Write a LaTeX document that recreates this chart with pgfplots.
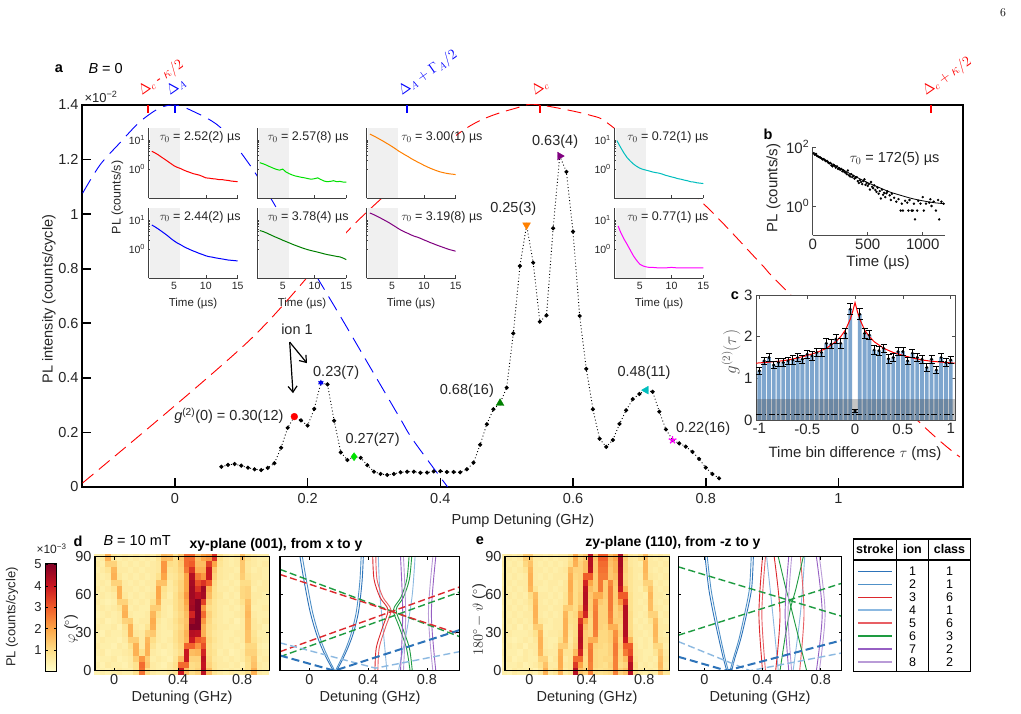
\documentclass[border=0pt]{standalone}
\usepackage{pgfplots}
\pgfplotsset{compat=1.18}
\usepackage{pgfplotstable}
\usepackage{fontspec}
\setsansfont{Liberation Sans}
\renewcommand{\familydefault}{\sfdefault}
\usetikzlibrary{arrows.meta}

% font sizes
\newcommand{\fM}{\fontsize{14.5}{16}\selectfont}
\newcommand{\fL}{\fontsize{15}{17}\selectfont}
\newcommand{\fI}{\fontsize{12.5}{14}\selectfont}
\newcommand{\fS}{\fontsize{10.5}{12}\selectfont}
\newcommand{\fT}{\fontsize{12.5}{14}\selectfont}
\newcommand{\fR}{\fontsize{14}{16}\selectfont}

% colours
\definecolor{txt}{RGB}{38,38,38}
\definecolor{cRed}{RGB}{255,0,0}
\definecolor{cLime}{RGB}{0,225,0}
\definecolor{cOrange}{RGB}{255,128,0}
\definecolor{cBlue}{RGB}{0,0,255}
\definecolor{cGreen}{RGB}{0,128,0}
\definecolor{cPurple}{RGB}{128,0,128}
\definecolor{cCyan}{RGB}{0,190,190}
\definecolor{cMag}{RGB}{255,0,255}
\definecolor{barblue}{RGB}{126,166,206}
\definecolor{s1}{RGB}{45,115,185}
\definecolor{s2}{RGB}{80,145,200}
\definecolor{s3}{RGB}{220,40,45}
\definecolor{s4}{RGB}{140,185,225}
\definecolor{s5}{RGB}{232,95,100}
\definecolor{s6}{RGB}{30,155,65}
\definecolor{s7}{RGB}{150,95,195}
\definecolor{s8}{RGB}{185,155,215}

\pgfplotsset{
  /pgf/number format/assume math mode=true,
  colormap={ylr}{rgb255=(255,255,204) rgb255=(254,222,135) rgb255=(253,165,70) rgb255=(240,90,40) rgb255=(200,20,32) rgb255=(128,0,38)},
  base/.style={scale only axis, anchor=south west, tick align=inside, clip mode=individual,
    tick label style={text=txt}},
  inset/.style={base, width=89pt, height=70pt, xmin=1, xmax=15, ymin=0.1, ymax=25,
    axis x line*=bottom, axis y line*=left, axis background/.style={fill=white},
    xtick={5,10,15}, ytick={1,10}, xticklabels={}, yticklabels={},
    major tick length=3.5pt, minor tick length=2pt,
    axis line style={line width=0.8pt, black!75}, tick style={black!75, line width=0.6pt},
    tick label style={font=\fS}},
  hm/.style={base, height=114pt, ymin=0, ymax=90, ytick={0,30,60,90}, xtick={0,0.4,0.8},
    axis on top, axis line style={line width=1.1pt, black}, tick style={black, line width=0.7pt},
    major tick length=3pt, tick label style={font=\fM}, point meta min=0, point meta max=5.05},
  hcell/.style={scatter, only marks, mark=square*, point meta=explicit,
    scatter/use mapped color={draw=mapped color, fill=mapped color}, mark size=3pt},
  sol/.style={line width=0.9pt, smooth},
  dsh/.style={line width=1.4pt, dash pattern=on 7pt off 3.5pt},
  dshT/.style={line width=2pt, dash pattern=on 8pt off 4pt},
}

% PL intensity versus pump detuning (x in GHz, y in 1e-2 counts/cycle)
\pgfplotstableread{
x y
0.07 0.074
0.08 0.081
0.09 0.084
0.10 0.078
0.11 0.071
0.12 0.065
0.13 0.062
0.14 0.070
0.15 0.087
0.16 0.144
0.17 0.217
0.18 0.258
0.19 0.244
0.20 0.225
0.21 0.286
0.22 0.382
0.23 0.376
0.24 0.243
0.25 0.127
0.26 0.099
0.27 0.111
0.28 0.107
0.29 0.080
0.30 0.056
0.31 0.048
0.32 0.044
0.33 0.048
0.34 0.054
0.35 0.056
0.36 0.056
0.37 0.052
0.38 0.053
0.39 0.057
0.40 0.058
0.41 0.055
0.42 0.055
0.43 0.054
0.44 0.065
0.45 0.089
0.46 0.155
0.47 0.230
0.48 0.285
0.49 0.307
0.50 0.364
0.51 0.563
0.52 0.810
0.53 0.960
0.54 0.822
0.55 0.606
0.56 0.629
0.57 0.948
0.58 1.213
0.59 1.155
0.60 0.936
0.61 0.627
0.62 0.433
0.63 0.285
0.64 0.177
0.65 0.147
0.66 0.172
0.67 0.231
0.68 0.281
0.69 0.322
0.70 0.341
0.71 0.355
0.72 0.349
0.73 0.276
0.74 0.211
0.75 0.172
0.76 0.160
0.77 0.148
0.78 0.129
0.79 0.103
0.80 0.071
0.81 0.048
0.82 0.032
}\pumpdata

% g2 histogram: bin centre (ms), value, error
\pgfplotstableread{
x y e
-1.00 1.18 0.08
-0.95 1.42 0.09
-0.90 1.50 0.10
-0.85 1.32 0.09
-0.80 1.38 0.09
-0.75 1.38 0.09
-0.70 1.42 0.09
-0.65 1.44 0.10
-0.60 1.50 0.10
-0.55 1.46 0.10
-0.50 1.58 0.10
-0.45 1.54 0.10
-0.40 1.62 0.10
-0.35 1.62 0.10
-0.30 1.84 0.11
-0.25 1.82 0.11
-0.20 1.94 0.11
-0.15 1.84 0.11
-0.10 2.08 0.11
-0.05 2.66 0.13
0.00 0.22 0.04
0.05 2.54 0.13
0.10 2.08 0.11
0.15 2.04 0.11
0.20 1.68 0.10
0.25 1.66 0.10
0.30 1.72 0.10
0.35 1.47 0.10
0.40 1.50 0.10
0.45 1.64 0.10
0.50 1.64 0.10
0.55 1.42 0.09
0.60 1.60 0.10
0.65 1.50 0.10
0.70 1.46 0.09
0.75 1.26 0.09
0.80 1.46 0.09
0.85 1.20 0.08
0.90 1.50 0.10
0.95 1.38 0.09
1.00 1.44 0.09
}\gtwo

% PL map, B = 10 mT, xy-plane (rows: angle, columns: detuning bins)
\pgfplotstableread{
phi c0 c1 c2 c3 c4 c5 c6 c7 c8 c9 c10 c11 c12 c13 c14 c15 c16 c17 c18 c19 c20 c21 c22 c23 c24 c25 c26 c27 c28 c29 c30
0 0.4 0.5 0.4 0.5 0.6 0.5 0.5 0.9 2.7 1.0 0.6 0.5 0.5 0.6 0.8 4.0 1.6 1.0 1.2 4.2 1.6 0.8 0.6 0.5 0.6 0.5 0.6 0.9 1.8 0.6 0.5
5 0.5 0.4 0.6 0.5 0.5 0.4 0.6 0.9 2.8 1.4 0.6 0.5 0.4 0.6 0.9 2.8 2.8 1.0 1.1 4.1 1.2 0.8 0.6 0.6 0.5 0.6 0.4 0.9 1.5 0.6 0.5
10 0.4 0.5 0.5 0.6 0.4 0.5 0.6 1.3 2.2 1.3 0.5 0.6 0.5 0.4 0.8 1.6 4.0 1.2 1.2 4.2 1.1 0.7 0.6 0.5 0.6 0.5 0.6 1.0 1.4 0.5 0.6
15 0.5 0.6 0.4 0.5 0.5 0.6 0.7 1.8 0.9 1.8 0.6 0.5 0.4 0.5 0.7 1.0 4.0 1.6 1.7 3.8 1.0 0.8 0.5 0.6 0.4 0.5 0.6 1.2 1.2 0.6 0.5
20 0.6 0.5 0.5 0.4 0.6 0.5 0.9 1.8 0.6 1.8 0.8 0.5 0.6 0.5 0.8 1.1 2.9 2.9 2.2 3.2 1.0 0.7 0.6 0.5 0.5 0.6 0.5 1.1 1.1 0.5 0.4
25 0.5 0.6 0.5 0.5 0.4 0.6 1.3 1.3 0.6 1.7 1.0 0.6 0.5 0.6 0.9 1.2 1.7 4.0 3.0 2.8 1.1 0.8 0.6 0.5 0.6 0.5 0.6 1.5 0.9 0.6 0.5
30 0.5 0.4 0.6 0.5 0.5 0.7 1.8 0.7 0.6 1.2 1.4 0.6 0.5 0.5 0.9 1.2 1.8 4.3 4.2 1.8 1.0 0.7 0.6 0.5 0.5 0.6 0.6 1.5 0.8 0.5 0.5
35 0.6 0.5 0.5 0.6 0.4 0.8 1.8 0.6 0.5 0.8 1.8 0.6 0.5 0.6 0.8 1.1 1.6 5.0 5.0 1.8 1.0 0.8 0.6 0.6 0.5 0.5 0.6 1.6 0.7 0.6 0.4
40 0.5 0.6 0.4 0.5 0.6 1.2 1.3 0.5 0.6 0.6 1.9 0.7 0.5 0.6 0.9 1.2 1.5 4.6 5.0 2.2 1.1 0.7 0.6 0.5 0.6 0.4 0.6 1.6 0.7 0.5 0.6
45 0.4 0.5 0.6 0.5 0.6 1.8 0.6 0.5 0.5 0.6 1.7 0.9 0.6 0.5 0.8 1.1 1.6 3.8 5.0 2.8 1.2 0.8 0.6 0.5 0.5 0.6 0.7 1.7 0.6 0.5 0.5
50 0.5 0.6 0.5 0.6 0.8 1.7 0.5 0.6 0.5 0.5 1.3 1.3 0.6 0.5 0.9 1.2 1.8 4.6 5.0 2.2 1.0 0.8 0.6 0.5 0.6 0.5 0.7 1.6 0.5 0.5 0.6
55 0.6 0.5 0.4 0.5 1.2 1.2 0.6 0.5 0.6 0.5 0.9 1.8 0.6 0.6 0.9 1.2 2.0 4.5 5.0 3.4 1.2 0.8 0.6 0.6 0.5 0.6 0.9 1.5 0.6 0.5 0.5
60 0.5 0.6 0.5 0.6 1.8 0.7 0.5 0.6 0.5 0.6 0.7 2.0 0.8 0.5 0.9 1.3 2.2 4.6 4.2 4.5 1.6 0.9 0.7 0.5 0.6 0.5 1.1 1.2 0.6 0.6 0.5
65 0.6 0.5 0.6 0.8 1.8 0.6 0.6 0.5 0.6 0.5 0.6 2.0 0.9 0.6 0.8 1.2 2.0 4.6 3.6 4.6 1.8 0.9 0.6 0.6 0.5 0.6 1.1 1.2 0.5 0.6 0.6
70 0.5 0.6 0.5 1.2 1.2 0.6 0.5 0.6 0.5 0.6 0.6 1.5 1.5 0.6 0.9 1.2 2.0 4.5 3.2 3.6 3.0 1.0 0.6 0.5 0.6 0.5 1.0 1.0 0.6 0.5 0.6
75 0.6 0.5 0.6 1.8 0.7 0.5 0.6 0.5 0.6 0.5 0.6 0.9 2.0 0.7 0.8 1.1 2.0 4.3 2.6 2.2 4.0 1.2 0.7 0.6 0.5 0.6 1.3 0.8 0.6 0.6 0.5
80 0.5 0.6 0.8 1.7 0.6 0.6 0.5 0.6 0.5 0.6 0.6 0.7 2.2 0.8 0.9 1.2 2.6 3.6 1.8 1.8 4.0 1.4 0.7 0.6 0.6 0.5 1.4 0.7 0.5 0.6 0.5
85 0.6 0.5 1.2 1.2 0.6 0.5 0.6 0.5 0.6 0.5 0.6 0.7 2.2 1.0 0.9 1.3 2.8 3.0 1.6 1.6 3.4 2.0 0.8 0.6 0.5 0.6 1.4 0.7 0.6 0.5 0.6
90 0.5 0.6 1.8 0.7 0.5 0.6 0.5 0.6 0.5 0.6 0.5 0.8 1.6 1.5 0.9 1.4 2.8 2.8 1.5 2.0 2.2 3.6 0.9 0.6 0.5 0.6 1.5 0.8 0.6 0.5 0.5
}\heatD

% PL map, B = 10 mT, zy-plane
\pgfplotstableread{
phi c0 c1 c2 c3 c4 c5 c6 c7 c8 c9 c10 c11 c12 c13 c14 c15 c16 c17 c18 c19 c20 c21 c22 c23 c24 c25 c26 c27 c28 c29 c30 c31 c32
0 0.5 0.4 0.6 0.5 0.5 0.6 0.4 0.7 1.8 0.6 0.8 1.8 0.6 0.8 4.3 1.5 1.2 2.5 1.0 0.9 1.0 1.1 2.5 1.2 1.5 4.3 0.9 0.6 0.5 0.6 0.5 1.6 0.7
5 0.4 0.5 0.5 0.6 0.4 0.5 0.6 0.9 1.5 0.6 0.6 1.9 0.7 0.8 3.5 2.0 1.0 2.5 1.1 1.0 0.9 1.2 2.5 1.0 1.2 4.3 1.0 0.5 0.6 0.5 0.6 1.7 0.6
10 0.5 0.6 0.4 0.5 0.6 0.5 0.5 1.2 1.2 0.5 0.7 1.9 0.6 0.8 2.8 2.8 1.0 2.6 1.1 1.0 1.1 1.1 2.5 1.1 1.6 3.8 0.8 0.6 0.5 0.6 0.5 1.6 0.7
15 0.6 0.5 0.5 0.4 0.6 0.5 0.6 1.7 0.7 0.6 0.6 1.8 0.8 0.8 1.6 3.8 1.1 2.6 1.1 1.0 1.0 1.2 2.6 1.1 2.6 3.2 0.7 0.6 0.5 0.5 0.8 1.4 0.6
20 0.5 0.6 0.5 0.6 0.4 0.6 0.6 1.8 0.6 0.5 0.6 1.3 1.3 0.7 1.2 4.2 1.3 2.5 1.2 1.1 1.0 1.2 2.6 1.2 3.0 3.0 0.7 0.5 0.6 0.5 1.1 1.1 0.5
25 0.6 0.5 0.4 0.5 0.6 0.5 0.7 1.8 0.6 0.5 0.5 0.9 1.7 0.6 1.1 4.3 1.3 1.8 1.8 1.1 1.1 1.3 2.4 1.1 4.0 1.7 0.6 0.5 0.6 0.5 1.6 0.7 0.6
30 0.5 0.6 0.5 0.5 0.5 0.6 0.9 1.7 0.5 0.6 0.6 0.7 1.8 0.7 1.0 4.2 1.3 1.1 2.5 1.1 1.1 1.3 2.3 1.3 4.3 1.1 0.6 0.6 0.5 0.6 1.7 0.6 0.5
35 0.6 0.5 0.6 0.4 0.6 0.5 1.3 1.3 0.5 0.5 0.6 0.6 1.8 0.8 1.0 4.0 1.5 1.1 2.6 1.2 1.1 1.8 1.8 1.2 4.3 1.0 0.6 0.5 0.6 0.6 1.7 0.6 0.6
40 0.5 0.6 0.5 0.6 0.5 0.6 1.7 0.7 0.6 0.5 0.6 0.6 1.8 0.9 1.0 3.6 2.0 1.1 2.6 1.2 1.2 2.4 1.3 1.3 4.3 1.0 0.5 0.6 0.5 0.8 1.6 0.6 0.5
45 0.6 0.5 0.6 0.5 0.6 0.6 1.8 0.6 0.5 0.6 0.5 0.6 1.7 0.9 1.1 2.4 3.8 1.2 2.6 1.2 1.2 2.5 1.2 1.4 4.3 1.0 0.6 0.5 0.6 1.2 1.2 0.5 0.6
50 0.5 0.6 0.5 0.6 0.5 0.7 1.8 0.6 0.6 0.5 0.6 0.6 1.3 1.3 1.0 1.6 4.2 1.3 2.5 1.2 1.2 2.6 1.2 1.6 4.3 0.9 0.6 0.6 0.5 1.6 0.7 0.6 0.5
55 0.6 0.5 0.6 0.5 0.6 0.8 1.7 0.6 0.5 0.6 0.5 0.6 0.8 1.8 1.0 1.3 4.3 1.3 2.4 1.4 1.2 2.6 1.3 2.2 3.6 0.9 0.6 0.5 0.6 1.6 0.6 0.5 0.6
60 0.5 0.6 0.5 0.6 0.5 1.0 1.6 0.6 0.6 0.5 0.6 0.5 0.8 1.8 1.0 1.3 4.3 1.4 1.9 1.9 1.3 2.6 1.3 3.0 3.0 0.9 0.6 0.6 0.5 1.7 0.6 0.6 0.5
65 0.6 0.5 0.6 0.5 0.6 1.7 0.8 0.5 0.5 0.6 0.5 0.6 0.7 1.9 1.0 1.2 4.2 1.6 1.3 2.6 1.3 2.6 1.3 4.0 1.7 0.8 0.6 0.5 0.9 1.5 0.6 0.5 0.6
70 0.5 0.6 0.5 0.6 0.6 1.8 0.6 0.6 0.5 0.6 0.6 0.5 0.7 1.9 1.0 1.2 3.8 2.0 1.3 2.6 1.3 2.4 1.4 4.3 1.2 0.8 0.6 0.6 1.2 1.2 0.5 0.6 0.5
75 0.6 0.5 0.6 0.5 0.6 1.8 0.6 0.5 0.6 0.5 0.6 0.6 0.6 1.8 1.1 1.2 3.0 3.0 1.3 2.6 2.6 1.4 1.6 4.3 1.1 0.8 0.6 0.5 1.6 0.7 0.6 0.5 0.6
80 0.5 0.6 0.5 0.6 0.8 1.7 0.6 0.6 0.5 0.6 0.5 0.6 0.7 1.6 1.2 1.2 1.6 4.2 1.4 2.7 2.7 1.4 1.8 4.4 1.2 0.8 0.6 0.6 1.7 0.6 0.5 0.6 0.5
85 0.6 0.5 0.6 0.5 1.1 1.5 0.6 0.5 0.6 0.5 0.6 0.5 0.6 1.0 1.8 1.2 1.6 4.3 1.4 2.8 2.8 1.5 1.8 4.5 1.2 0.7 0.6 0.5 1.7 0.6 0.6 0.5 0.6
90 0.5 0.6 0.5 0.6 1.3 1.3 0.6 0.6 0.5 0.6 0.5 0.6 0.6 0.9 1.9 1.1 1.4 4.3 1.5 3.0 3.0 1.6 2.0 4.5 1.3 0.7 0.6 0.9 1.6 0.6 0.5 0.6 0.5
}\heatE

\begin{document}
\begin{tikzpicture}
\fill[white] (0,0) rectangle (1021pt,713pt);
\path[use as bounding box] (0,0) rectangle (1021pt,713pt);

\node[font=\rmfamily\fontsize{12}{14}\selectfont] at (1003pt,700pt) {6};

% ================= a: PL spectrum =================
\begin{axis}[base, at={(82pt,226pt)}, width=881pt, height=382pt,
  xmin=-0.14, xmax=1.1877, ymin=0, ymax=1.4,
  xtick={0,0.2,0.4,0.6,0.8,1}, ytick={0,0.2,0.4,0.6,0.8,1,1.2,1.4},
  tick pos=left, major tick length=9pt,
  axis line style={line width=1.8pt, black},
  tick style={line width=1.6pt, black},
  tick label style={font=\fM}, xticklabel shift=3pt]
% cavity and ion line shapes
\addplot[cRed, line width=0.9pt, dash pattern=on 14pt off 7pt, smooth] coordinates {
 (-0.139,0.015) (0.113,0.539) (0.274,0.972) (0.433,1.305) (0.520,1.393) (0.550,1.400)
 (0.625,1.363) (0.660,1.319) (0.791,1.051) (0.882,0.821) (0.916,0.733) (1.123,0.235) (1.183,0.110)};
\addplot[cBlue, line width=0.9pt, dash pattern=on 16pt off 8pt, smooth] coordinates {
 (-0.139,1.077) (-0.113,1.180) (-0.083,1.261) (-0.053,1.338) (-0.023,1.389) (0,1.400)
 (0.023,1.382) (0.068,1.319) (0.113,1.180) (0.146,1.052) (0.188,0.876) (0.249,0.627)
 (0.294,0.440) (0.339,0.253) (0.359,0.172) (0.411,0.0) (0.43,-0.06)};
% measured spectrum
\addplot[black, line width=0.9pt, dash pattern=on 0.9pt off 2.4pt, mark=*, mark size=1.6pt,
  mark options={solid, fill=black}] table[x=x, y=y] {\pumpdata};
% points where lifetime and g2 were measured
\addplot[only marks, mark=*, mark size=3.4pt, cRed] coordinates {(0.18,0.258)};
\addplot[only marks, mark=asterisk, mark size=2.8pt, cBlue, line width=1.1pt] coordinates {(0.22,0.382)};
\addplot[only marks, mark=diamond*, mark size=4pt, cLime] coordinates {(0.27,0.111)};
\addplot[only marks, mark=triangle*, mark size=4.5pt, cGreen] coordinates {(0.49,0.307)};
\addplot[only marks, mark=triangle*, mark size=4.5pt, cOrange, mark options={rotate=180}] coordinates {(0.53,0.960)};
\addplot[only marks, mark=triangle*, mark size=4.5pt, cPurple, mark options={rotate=-90}] coordinates {(0.58,1.213)};
\addplot[only marks, mark=triangle*, mark size=4.5pt, cCyan, mark options={rotate=90}] coordinates {(0.71,0.355)};
\addplot[only marks, mark=star, mark size=4pt, cMag, line width=1.3pt] coordinates {(0.75,0.172)};
% g2(0) values
\node[font=\fM, text=txt, anchor=east] at (axis cs:0.169,0.262) {\textit{g}\textsuperscript{(2)}(0) = 0.30(12)};
\node[font=\fM, text=txt] at (axis cs:0.243,0.417) {0.23(7)};
\node[font=\fM, text=txt] at (axis cs:0.298,0.172) {0.27(27)};
\node[font=\fM, text=txt] at (axis cs:0.44,0.353) {0.68(16)};
\node[font=\fM, text=txt] at (axis cs:0.51,1.021) {0.25(3)};
\node[font=\fM, text=txt] at (axis cs:0.573,1.265) {0.63(4)};
\node[font=\fM, text=txt] at (axis cs:0.707,0.419) {0.48(11)};
\node[font=\fM, text=txt] at (axis cs:0.796,0.215) {0.22(16)};
\node[font=\fM, text=txt] at (axis cs:0.184,0.578) {ion 1};
\draw[-{Straight Barb[length=6pt,width=9pt]}, line width=1.2pt] (axis cs:0.173,0.531) -- (axis cs:0.178,0.344);
\draw[-{Straight Barb[length=6pt,width=9pt]}, line width=1.2pt] (axis cs:0.173,0.531) -- (axis cs:0.199,0.454);
\end{axis}

% detuning markers on the upper edge
\draw[cRed, line width=1.6pt] (147.8pt,608pt) -- (147.8pt,600pt);
\draw[cBlue, line width=1.6pt] (175pt,608pt) -- (175pt,600pt);
\draw[cBlue, line width=1.6pt] (407.2pt,608pt) -- (407.2pt,600pt);
\draw[cRed, line width=1.6pt] (539.9pt,608pt) -- (539.9pt,600pt);
\draw[cRed, line width=1.6pt] (930.7pt,608pt) -- (930.7pt,600pt);
\node[cRed, rotate=35, anchor=base west, inner sep=0pt, font=\fR] at (142pt,617pt) {$\Delta_c$ - $\kappa/2$};
\node[cBlue, rotate=35, anchor=base west, inner sep=0pt, font=\fR] at (170pt,617pt) {$\Delta_A$};
\node[cBlue, rotate=35, anchor=base west, inner sep=0pt, font=\fR] at (402pt,617pt) {$\Delta_A + \Gamma_A/2$};
\node[cRed, rotate=35, anchor=base west, inner sep=0pt, font=\fR] at (535pt,617pt) {$\Delta_c$};
\node[cRed, rotate=35, anchor=base west, inner sep=0pt, font=\fR] at (926pt,617pt) {$\Delta_c + \kappa/2$};

\node[font=\fM\bfseries] at (59pt,644pt) {a};
\node[font=\fM, anchor=west] at (85pt,644pt) {\textit{B} = 0};
\node[font=\fontsize{13}{15}\selectfont, text=txt, anchor=west] at (81pt,616pt) {×10\textsuperscript{−2}};
\node[font=\fM, text=txt, rotate=90] at (49pt,414pt) {PL intensity (counts/cycle)};
\node[font=\fM, text=txt] at (523pt,192pt) {Pump Detuning (GHz)};

% ================= lifetime insets =================
\begin{axis}[ymode=log, inset, at={(148.6pt,514.7pt)}, yticklabels={10\textsuperscript{0},10\textsuperscript{1}}]
\addplot[draw=none, fill=black!6] coordinates {(1.2,0.1) (6,0.1) (6,25) (1.2,25)} -- cycle;
\addplot[cRed, line width=1pt] coordinates {(1.5,4.1) (2,3.6) (2.5,3.1) (3,2.6) (3.5,2.2) (4,1.85) (4.5,1.55) (5,1.3) (5.5,1.15) (6,1.05) (6.5,0.93) (7,0.84) (7.5,0.77) (8,0.7) (8.5,0.66) (9,0.62) (9.5,0.56) (10,0.5) (10.5,0.49) (11,0.47) (11.5,0.46) (12,0.44) (12.5,0.44) (13,0.42) (13.5,0.41) (14,0.39) (14.5,0.38) (15,0.37)};
\node[font=\fI, text=txt] at (rel axis cs:0.578,0.876) {$\tau_0$ = 2.52(2) µs};
\end{axis}
\begin{axis}[ymode=log, inset, at={(257.3pt,514.7pt)}]
\addplot[draw=none, fill=black!6] coordinates {(1.2,0.1) (6,0.1) (6,25) (1.2,25)} -- cycle;
\addplot[cLime, line width=1pt] coordinates {(1.4,1.66) (2,1.5) (2.5,1.35) (3,1.2) (3.5,1.08) (4,0.98) (4.5,0.92) (5,1.0) (5.5,0.8) (6,0.7) (6.5,0.63) (7,0.58) (7.5,0.55) (8,0.52) (8.5,0.5) (9,0.47) (9.5,0.45) (10,0.47) (10.5,0.5) (11,0.44) (11.5,0.39) (12,0.37) (12.5,0.38) (13,0.4) (13.5,0.37) (14,0.38) (14.5,0.36) (15,0.36)};
\node[font=\fI, text=txt] at (rel axis cs:0.57,0.876) {$\tau_0$ = 2.57(8) µs};
\end{axis}
\begin{axis}[ymode=log, inset, at={(366.7pt,514.7pt)}]
\addplot[draw=none, fill=black!6] coordinates {(1.2,0.1) (6,0.1) (6,25) (1.2,25)} -- cycle;
\addplot[cOrange, line width=1pt] coordinates {(1.5,15.8) (2,14) (2.5,12.3) (3,10.7) (3.5,9.3) (4,8.0) (4.5,6.9) (5,5.9) (5.5,5.0) (6,4.2) (6.5,3.6) (7,3.1) (7.5,2.7) (8,2.3) (8.5,2.0) (9,1.75) (9.5,1.55) (10,1.35) (10.5,1.2) (11,1.07) (11.5,0.97) (12,0.88) (12.5,0.81) (13,0.76) (13.5,0.72) (14,0.69) (14.5,0.67) (15,0.65)};
\node[font=\fI, text=txt] at (rel axis cs:0.846,0.876) {$\tau_0$ = 3.00(1) µs};
\end{axis}
\begin{axis}[ymode=log, inset, at={(614.3pt,514.7pt)}, yticklabels={10\textsuperscript{0},10\textsuperscript{1}}]
\addplot[draw=none, fill=black!6] coordinates {(1.2,0.1) (6,0.1) (6,25) (1.2,25)} -- cycle;
\addplot[cCyan, line width=1pt] coordinates {(1.4,9.5) (2,5.5) (2.5,3.6) (3,2.5) (3.5,1.9) (4,1.5) (4.5,1.25) (5,1.08) (5.5,0.98) (6,0.92) (6.5,0.86) (7,0.8) (7.5,0.76) (8,0.73) (8.5,0.68) (9,0.62) (9.5,0.58) (10,0.54) (10.5,0.51) (11,0.47) (11.5,0.45) (12,0.42) (12.5,0.4) (13,0.37) (13.5,0.36) (14,0.34) (14.5,0.33) (15,0.32)};
\node[font=\fI, text=txt] at (rel axis cs:0.603,0.876) {$\tau_0$ = 0.72(1) µs};
\end{axis}
\begin{axis}[ymode=log, inset, at={(148.6pt,434.5pt)}, yticklabels={10\textsuperscript{0},10\textsuperscript{1}}, xticklabels={5,10,15}]
\addplot[draw=none, fill=black!6] coordinates {(1.2,0.1) (6,0.1) (6,25) (1.2,25)} -- cycle;
\addplot[cBlue, line width=1pt] coordinates {(1.5,6.8) (2,5.9) (2.5,5.0) (3,4.2) (3.5,3.5) (4,2.9) (4.5,2.35) (5,1.95) (5.5,1.65) (6,1.45) (6.5,1.25) (7,1.1) (7.5,0.98) (8,0.88) (8.5,0.8) (9,0.72) (9.5,0.66) (10,0.6) (10.5,0.56) (11,0.54) (11.5,0.51) (12,0.49) (12.5,0.47) (13,0.45) (13.5,0.43) (14,0.42) (14.5,0.41) (15,0.4)};
\node[font=\fI, text=txt] at (rel axis cs:0.578,0.88) {$\tau_0$ = 2.44(2) µs};
\end{axis}
\begin{axis}[ymode=log, inset, at={(257.3pt,434.5pt)}, xticklabels={5,10,15}]
\addplot[draw=none, fill=black!6] coordinates {(1.2,0.1) (6,0.1) (6,25) (1.2,25)} -- cycle;
\addplot[cGreen, line width=1pt] coordinates {(1.4,4.4) (2,4.0) (2.5,3.6) (3,3.2) (3.5,2.85) (4,2.55) (4.5,2.3) (5,2.05) (5.5,1.85) (6,1.67) (6.5,1.5) (7,1.36) (7.5,1.24) (8,1.13) (8.5,1.04) (9,0.96) (9.5,0.9) (10,0.85) (10.5,0.8) (11,0.75) (11.5,0.7) (12,0.66) (12.5,0.63) (13,0.6) (13.5,0.57) (14,0.55) (14.5,0.5) (15,0.44)};
\node[font=\fI, text=txt] at (rel axis cs:0.57,0.88) {$\tau_0$ = 3.78(4) µs};
\end{axis}
\begin{axis}[ymode=log, inset, at={(366.7pt,434.5pt)}, xticklabels={5,10,15}]
\addplot[draw=none, fill=black!6] coordinates {(1.2,0.1) (6,0.1) (6,25) (1.2,25)} -- cycle;
\addplot[cPurple, line width=1pt] coordinates {(1.5,17.5) (2,15.8) (2.5,14.0) (3,12.3) (3.5,10.8) (4,9.4) (4.5,8.2) (5,7.0) (5.5,6.0) (6,5.1) (6.5,4.4) (7,3.9) (7.5,3.5) (8,3.1) (8.5,2.8) (9,2.6) (9.5,2.35) (10,2.1) (10.5,1.9) (11,1.7) (11.5,1.55) (12,1.4) (12.5,1.28) (13,1.17) (13.5,1.07) (14,0.98) (14.5,0.92) (15,0.86)};
\node[font=\fI, text=txt] at (rel axis cs:0.846,0.88) {$\tau_0$ = 3.19(8) µs};
\end{axis}
\begin{axis}[ymode=log, inset, at={(614.3pt,434.5pt)}, yticklabels={10\textsuperscript{0},10\textsuperscript{1}}, xticklabels={5,10,15}]
\addplot[draw=none, fill=black!6] coordinates {(1.2,0.1) (6,0.1) (6,25) (1.2,25)} -- cycle;
\addplot[cMag, line width=1pt] coordinates {(1.6,6.3) (2,3.8) (2.5,2.3) (3,1.5) (3.5,0.95) (4,0.6) (4.5,0.42) (5,0.31) (5.5,0.27) (6,0.25) (6.5,0.24) (7,0.24) (8,0.23) (9,0.23) (10,0.24) (11,0.23) (12,0.23) (13,0.23) (14,0.23) (15,0.23)};
\node[font=\fI, text=txt] at (rel axis cs:0.603,0.88) {$\tau_0$ = 0.77(1) µs};
\end{axis}
\node[font=\fI, text=txt, rotate=90] at (117.5pt,515.5pt) {PL (counts/s)};
\foreach \xx in {193,302,411,659} {\node[font=\fontsize{11.5}{13}\selectfont, text=txt] at (\xx pt,409pt) {Time (µs)};}

% ================= b: long decay =================
\begin{axis}[ymode=log, base, at={(812.7pt,477.5pt)}, width=132pt, height=88.5pt,
  xmin=0, xmax=1200, ymin=0.1, ymax=100,
  axis x line*=bottom, axis y line*=left,
  xtick={0,500,1000}, xticklabels={0,500,1000}, ytick={1,100},
  yticklabels={10\textsuperscript{0},10\textsuperscript{2}},
  axis line style={line width=0.8pt, black!70}, tick style={black!70, line width=0.6pt},
  major tick length=3.5pt, minor tick length=2pt, tick label style={font=\fL}]
\addplot[only marks, mark=*, mark size=1pt, black] coordinates {
 (10,62) (20,55) (30,58) (40,50) (50,47) (60,45) (70,44) (80,41) (90,38) (100,39) (110,36) (120,33)
 (130,34) (140,30) (150,28) (160,29) (170,24) (180,22) (190,25) (200,23) (210,20) (220,22) (230,18)
 (240,19) (250,17) (260,18) (270,15) (280,16) (290,14) (300,13.5) (310,12) (320,16) (330,11) (340,10)
 (350,12) (360,9.5) (370,10.5) (380,8.5) (390,9) (400,9.5) (410,7) (420,6) (430,7.5) (440,6.5)
 (450,5.5) (460,7) (470,8) (480,5.2) (490,6) (500,4.8) (510,5.5) (520,3.6) (530,6.5) (540,4.5)
 (550,4) (560,5) (570,3.5) (580,3) (590,4.2) (600,2.6) (610,3.2) (620,1.8) (630,3.6) (640,2.4)
 (650,2.8) (660,2) (670,2.7) (680,3.1) (700,2.3) (710,1.6) (720,2.6) (740,1.9) (760,1.4) (780,1.7)
 (800,0.7) (810,1.2) (820,0.7) (840,1.5) (860,1.3) (870,0.7) (880,1.6) (900,0.7) (910,0.7) (920,1.2)
 (930,0.35) (950,0.7) (960,1.5) (980,1.2) (1000,2.0) (1010,0.7) (1030,1.2) (1060,1.3) (1070,1.7)
 (1080,1.0) (1100,1.4) (1120,0.7) (1140,1.6) (1150,0.35) (1170,1.4) (1190,1.2)};
\addplot[black, line width=0.8pt, smooth] coordinates {(0,60) (100,38) (200,24) (300,15) (400,9.5) (500,6.2) (600,4.3) (700,3.0) (800,2.3) (900,1.8) (1000,1.5) (1100,1.3) (1190,1.2)};
\node[font=\fM, text=txt] at (rel axis cs:0.62,0.87) {$\tau_0$ = 172(5) µs};
\end{axis}
\node[font=\fM\bfseries] at (768pt,579pt) {b};
\node[font=\fL, text=txt, rotate=90] at (773.5pt,525pt) {PL (counts/s)};
\node[font=\fL, text=txt] at (878pt,450pt) {Time (µs)};

% ================= c: g2 histogram =================
\begin{axis}[base, at={(756pt,293pt)}, width=199pt, height=125pt,
  xmin=-1.035, xmax=1.045, ymin=0, ymax=3,
  xtick={-1,-0.5,0,0.5,1}, xticklabels={-1,-0.5,0,0.5,1}, ytick={0,1,2,3},
  axis background/.style={fill=white},
  axis line style={line width=0.8pt, black!70}, tick style={black!70, line width=0.6pt},
  major tick length=3.5pt, tick label style={font=\fL}]
\addplot[ybar, bar width=0.04, fill=barblue, draw=none] table[x=x, y=y] {\gtwo};
\addplot[draw=none, fill=black!75, opacity=0.3] coordinates {(-1.035,0) (1.045,0) (1.045,0.5) (-1.035,0.5)} -- cycle;
\addplot[black, line width=1pt, dash pattern=on 6pt off 2.5pt on 1.5pt off 2.5pt] coordinates {(-1.035,0.14) (1.045,0.14)};
\addplot[cRed, line width=1pt] coordinates {(-1.035,1.365) (-1,1.37) (-0.9,1.39) (-0.8,1.41) (-0.7,1.44) (-0.6,1.49) (-0.5,1.55) (-0.4,1.62) (-0.3,1.72) (-0.2,1.88) (-0.15,2.0) (-0.1,2.16) (-0.05,2.42) (-0.025,2.6) (0,2.82) (0.025,2.6) (0.05,2.42) (0.1,2.16) (0.15,2.0) (0.2,1.88) (0.3,1.72) (0.4,1.62) (0.5,1.55) (0.6,1.49) (0.7,1.44) (0.8,1.41) (0.9,1.39) (1,1.37) (1.045,1.365)};
\addplot[only marks, mark=*, mark size=1.3pt, black,
  error bars/.cd, y dir=both, y explicit, error bar style={line width=0.7pt},
  error mark options={rotate=90, mark size=3pt, line width=0.7pt}] table[x=x, y=y, y error=e] {\gtwo};
\end{axis}
\node[font=\fM\bfseries] at (735pt,417pt) {c};
\node[font=\fontsize{16}{18}\selectfont, text=txt!80, rotate=90] at (731pt,361pt) {$g^{(2)}(\tau)$};
\node[font=\fL, text=txt] at (855pt,259pt) {Time bin difference $\tau$ (ms)};

% ================= d: xy-plane =================
\begin{axis}[hm, at={(95pt,42.3pt)}, width=174.3pt, xmin=-0.12, xmax=0.97,
  colorbar, colorbar style={at={(parent axis.south west)}, anchor=south west,
    xshift=-58.3pt, yshift=-1pt, width=11.6pt, height=108.4pt, scale only axis,
    ytick={1,2,3,4,5}, yticklabel pos=left, tick align=inside, major tick length=2.5pt,
    tick label style={font=\fontsize{13}{15}\selectfont, text=txt},
    axis line style={line width=0.8pt}, tick style={black, line width=0.6pt}}]
\foreach \k/\xv in {0/-0.105,1/-0.07,2/-0.035,3/0,4/0.035,5/0.07,6/0.105,7/0.14,8/0.175,9/0.21,10/0.245,11/0.28,12/0.315,13/0.35,14/0.385,15/0.42,16/0.455,17/0.49,18/0.525,19/0.56,20/0.595,21/0.63,22/0.665,23/0.7,24/0.735,25/0.77,26/0.805,27/0.84,28/0.875,29/0.91,30/0.945} {
  \edef\tmp{\noexpand\addplot[hcell] table[x expr=\xv, y=phi, meta=c\k] {\noexpand\heatD};}
  \tmp
}
\end{axis}

\begin{axis}[hm, at={(280pt,42.3pt)}, width=179.3pt, xmin=-0.2, xmax=1.02, yticklabels={}]
% ion 1 and 2
\addplot[s1, sol] coordinates {(-0.064,90) (-0.035,70) (0.004,47) (0.045,30) (0.084,18) (0.125,8) (0.163,0)};
\addplot[s2, sol] coordinates {(-0.048,90) (-0.018,70) (0.02,47) (0.06,30) (0.098,18) (0.137,8) (0.172,0)};
\addplot[s1, sol] coordinates {(0.367,90) (0.358,70) (0.335,47) (0.30,30) (0.262,18) (0.222,8) (0.186,0)};
\addplot[s2, sol] coordinates {(0.352,90) (0.343,70) (0.32,47) (0.286,30) (0.25,18) (0.212,8) (0.177,0)};
% ion 4
\addplot[s4, sol] coordinates {(0.469,90) (0.48,60) (0.50,35) (0.527,0)};
\addplot[s4, sol] coordinates {(0.719,90) (0.70,60) (0.66,30) (0.606,0)};
% ion 3 and 5
\addplot[s3, sol] coordinates {(0.431,90) (0.44,72) (0.48,58) (0.535,48) (0.50,35) (0.455,18) (0.446,0)};
\addplot[s5, sol] coordinates {(0.452,90) (0.46,72) (0.50,58) (0.555,48) (0.52,35) (0.475,18) (0.466,0)};
% ion 6
\addplot[s6, sol] coordinates {(0.696,90) (0.68,72) (0.64,58) (0.59,48) (0.63,35) (0.68,18) (0.70,0)};
\addplot[s6, sol] coordinates {(0.678,90) (0.663,72) (0.623,58) (0.572,48) (0.61,35) (0.66,18) (0.685,0)};
% ions 7 and 8
\addplot[s7, sol] coordinates {(0.62,90) (0.635,45) (0.62,0)};
\addplot[s8, sol] coordinates {(0.64,90) (0.655,45) (0.64,0)};
\addplot[s7, sol] coordinates {(0.86,90) (0.83,45) (0.86,0)};
\addplot[s8, sol] coordinates {(0.84,90) (0.81,45) (0.84,0)};
% second-class sites
\addplot[s6, dsh] coordinates {(-0.2,80) (1.02,27)};
\addplot[s3, dsh] coordinates {(-0.2,76) (1.02,29)};
\addplot[s3, dsh] coordinates {(-0.2,15) (1.02,66)};
\addplot[s6, dsh] coordinates {(-0.2,11) (1.02,62)};
\addplot[s4, dsh] coordinates {(-0.2,22) (0.45,2) (1.02,15)};
\addplot[s1, dshT] coordinates {(-0.2,12) (0.17,0) (1.02,32)};
\end{axis}

\node[font=\fM\bfseries] at (78pt,172pt) {d};
\node[font=\fM, anchor=west] at (100pt,172pt) {\textit{B} = 10 mT};
\node[font=\fontsize{14}{16}\selectfont\bfseries] at (276pt,168pt) {xy-plane (001), from x to y};
\node[font=\fM, text=txt, rotate=90] at (71pt,84pt) {$\varphi$ ($^\circ$)};
\node[font=\fontsize{13}{15}\selectfont, text=txt, rotate=90] at (12pt,96pt) {PL (counts/cycle)};
\node[font=\fontsize{12}{14}\selectfont, text=txt, anchor=west] at (33pt,164pt) {×10\textsuperscript{−3}};
\node[font=\fM, text=txt] at (182pt,15pt) {Detuning (GHz)};
\node[font=\fM, text=txt] at (370pt,15pt) {Detuning (GHz)};

% ================= e: zy-plane =================
\begin{axis}[hm, at={(505pt,42.3pt)}, width=164.3pt, xmin=-0.169, xmax=0.974]
\foreach \k/\xv in {0/-0.165,1/-0.13,2/-0.095,3/-0.06,4/-0.025,5/0.01,6/0.045,7/0.08,8/0.115,9/0.15,10/0.185,11/0.22,12/0.255,13/0.29,14/0.325,15/0.36,16/0.395,17/0.43,18/0.465,19/0.5,20/0.535,21/0.57,22/0.605,23/0.64,24/0.675,25/0.71,26/0.745,27/0.78,28/0.815,29/0.85,30/0.885,31/0.92,32/0.955} {
  \edef\tmp{\noexpand\addplot[hcell] table[x expr=\xv, y=phi, meta=c\k] {\noexpand\heatE};}
  \tmp
}
\end{axis}

\begin{axis}[hm, at={(678.3pt,42.3pt)}, width=163.4pt, xmin=-0.179, xmax=0.944, yticklabels={}]
\addplot[s1, sol] coordinates {(0.005,90) (0.03,65) (0.062,45) (0.10,25) (0.13,10) (0.154,0)};
\addplot[s2, sol] coordinates {(0.02,90) (0.045,65) (0.077,45) (0.113,25) (0.142,10) (0.165,0)};
\addplot[s1, sol] coordinates {(0.337,90) (0.325,65) (0.291,45) (0.25,25) (0.21,10) (0.188,0)};
\addplot[s2, sol] coordinates {(0.322,90) (0.31,65) (0.277,45) (0.238,25) (0.20,10) (0.177,0)};
\addplot[s4, sol] coordinates {(0.428,90) (0.47,45) (0.508,0)};
\addplot[s4, sol] coordinates {(0.69,90) (0.66,45) (0.61,0)};
\addplot[s3, sol] coordinates {(0.40,90) (0.375,45) (0.40,0)};
\addplot[s5, sol] coordinates {(0.42,90) (0.395,45) (0.42,0)};
\addplot[s3, sol] coordinates {(0.48,90) (0.52,45) (0.49,0)};
\addplot[s5, sol] coordinates {(0.66,90) (0.685,45) (0.655,0)};
\addplot[s6, sol] coordinates {(0.508,90) (0.56,65) (0.585,55) (0.60,48) (0.65,25) (0.703,0)};
\addplot[s6, sol] coordinates {(0.68,90) (0.63,65) (0.605,55) (0.59,48) (0.56,30) (0.52,0)};
\addplot[s7, sol] coordinates {(0.58,90) (0.555,45) (0.58,0)};
\addplot[s8, sol] coordinates {(0.60,90) (0.575,45) (0.60,0)};
\addplot[s7, sol] coordinates {(0.77,90) (0.81,45) (0.77,0)};
\addplot[s8, sol] coordinates {(0.79,90) (0.83,45) (0.79,0)};
\addplot[s6, dsh] coordinates {(-0.179,82) (0.944,43)};
\addplot[s6, dsh] coordinates {(-0.179,28) (0.944,69)};
\addplot[s4, dsh] coordinates {(-0.179,23) (0.314,0) (0.944,14)};
\addplot[s1, dshT] coordinates {(-0.179,11) (0.154,0) (0.944,24)};
\end{axis}

\node[font=\fM\bfseries] at (480pt,172pt) {e};
\node[font=\fontsize{14}{16}\selectfont\bfseries] at (673pt,170pt) {zy-plane (110), from -z to y};
\node[font=\fM, text=txt, rotate=90] at (479pt,93pt) {$180^\circ - \vartheta$ ($^\circ$)};
\node[font=\fM, text=txt] at (587pt,15pt) {Detuning (GHz)};
\node[font=\fM, text=txt] at (760pt,15pt) {Detuning (GHz)};

% ================= stroke table =================
\draw[line width=1.2pt] (853.3pt,41.3pt) rectangle (970.7pt,174pt);
\draw[line width=1.2pt] (853.3pt,153pt) -- (970.7pt,153pt);
\draw[line width=1.2pt] (896.7pt,41.3pt) -- (896.7pt,174pt);
\draw[line width=1.2pt] (928.3pt,41.3pt) -- (928.3pt,174pt);
\node[font=\fT\bfseries] at (875pt,163.5pt) {stroke};
\node[font=\fT\bfseries] at (912.5pt,163.5pt) {ion};
\node[font=\fT\bfseries] at (949.5pt,163.5pt) {class};
\foreach \row/\scol/\cls in {1/s1/1,2/s2/1,3/s3/6,4/s4/1,5/s5/6,6/s6/3,7/s7/2,8/s8/2} {
  \pgfmathsetmacro\yy{141.3-12.86*(\row-1)}
  \draw[color=\scol, line width=1.6pt] (858pt,\yy pt) -- (892pt,\yy pt);
  \node[font=\fT] at (912.5pt,\yy pt) {\row};
  \node[font=\fT] at (949.5pt,\yy pt) {\cls};
}
\end{tikzpicture}
\end{document}
